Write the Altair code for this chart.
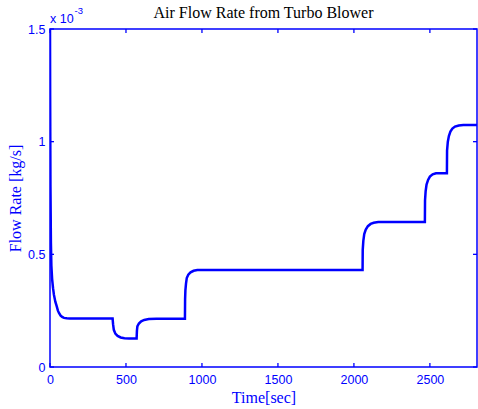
import altair as alt
import pandas as pd

# Time [s] and flow rate (in units of 1e-3 kg/s)
time_s = [0, 1, 3, 6, 9, 14, 20, 26, 35, 44, 52, 59, 70, 80, 92, 110, 130,
          412, 415, 420, 430, 445, 465, 490, 520, 570,
          572, 575, 585, 600, 620, 650, 700, 888,
          889, 891, 895, 900, 910, 925, 945, 970, 1000, 2057,
          2058, 2062, 2068, 2078, 2092, 2110, 2130, 2160, 2467,
          2468, 2472, 2478, 2488, 2500, 2518, 2540, 2612,
          2613, 2618, 2625, 2635, 2648, 2665, 2690, 2720, 2810]
flow_e3 = [1.5, 1.2, 0.8, 0.55, 0.45, 0.39, 0.35, 0.32, 0.29, 0.27, 0.25, 0.24, 0.228, 0.222, 0.218, 0.216, 0.215,
           0.215, 0.19, 0.165, 0.148, 0.138, 0.131, 0.128, 0.127, 0.127,
           0.16, 0.18, 0.193, 0.203, 0.209, 0.213, 0.214, 0.214,
           0.30, 0.34, 0.37, 0.395, 0.41, 0.42, 0.427, 0.43, 0.431, 0.431,
           0.52, 0.56, 0.59, 0.61, 0.625, 0.635, 0.64, 0.643, 0.643,
           0.74, 0.78, 0.81, 0.83, 0.845, 0.855, 0.86, 0.86,
           0.96, 1.0, 1.025, 1.045, 1.058, 1.067, 1.072, 1.074, 1.074]

x_ticks = [0, 500, 1000, 1500, 2000, 2500]
y_ticks = [0, 0.5, 1, 1.5]
x_domain = [0, 2810]
y_domain = [0, 1.5]

title_text = "Air Flow Rate from Turbo Blower"
x_title = "Time[sec]"
y_title = "Flow Rate [kg/s]"
exp_base = "x 10"
exp_power = "-3"

BLUE = "#0000FF"
SANS = "Liberation Sans"
SERIF = "Liberation Serif"
W, H = 427, 338
TICK = 4

df = pd.DataFrame({"t": time_s, "v": flow_e3})
xs = alt.Scale(domain=x_domain, nice=False, zero=False)
ys = alt.Scale(domain=y_domain, nice=False)

x_axis = alt.Axis(
    orient="bottom", values=x_ticks, tickSize=0, domain=False, grid=False,
    labelFlush=False, labelOverlap=False, labelFont=SANS, labelFontSize=12.5,
    labelColor=BLUE, labelPadding=6, labelExpr="'' + datum.value",
    title=x_title, titleFont=SERIF,
    titleFontSize=16, titleFontWeight="normal", titleColor=BLUE,
    titleBaseline="alphabetic", titleY=35)
y_axis = alt.Axis(
    orient="left", values=y_ticks, tickSize=0, domain=False, grid=False,
    labelFlush=False, labelOverlap=False, labelFont=SANS, labelFontSize=12.5,
    labelColor=BLUE, labelPadding=5, labelExpr="'' + datum.value",
    title=y_title, titleFont=SERIF, titleFontSize=16, titleFontWeight="normal",
    titleColor=BLUE, titleBaseline="alphabetic", titleX=-30, titleY=H / 2)

line = alt.Chart(df).mark_line(color=BLUE, strokeWidth=2.5, clip=True).encode(
    x=alt.X("t:Q", scale=xs, axis=x_axis),
    y=alt.Y("v:Q", scale=ys, axis=y_axis),
)

xt = alt.Chart(pd.DataFrame({"t": x_ticks}))
yt = alt.Chart(pd.DataFrame({"v": y_ticks}))
rule_style = dict(color=BLUE, strokeWidth=1.3)
tick_bottom = xt.mark_rule(**rule_style).encode(
    x=alt.X("t:Q", scale=xs, axis=x_axis), y=alt.value(H), y2=alt.value(H - TICK))
tick_top = xt.mark_rule(**rule_style).encode(
    x=alt.X("t:Q", scale=xs, axis=x_axis), y=alt.value(0), y2=alt.value(TICK))
tick_left = yt.mark_rule(**rule_style).encode(
    y=alt.Y("v:Q", scale=ys, axis=y_axis), x=alt.value(0), x2=alt.value(TICK))
tick_right = yt.mark_rule(**rule_style).encode(
    y=alt.Y("v:Q", scale=ys, axis=y_axis), x=alt.value(W), x2=alt.value(W - TICK))

one = alt.Chart(pd.DataFrame({"a": [0]}))
exp1 = one.mark_text(text=exp_base, align="left", baseline="alphabetic", dy=-6,
                     font=SANS, fontSize=12.5, color=BLUE).encode(
    x=alt.XDatum(x_domain[0]), y=alt.YDatum(y_domain[1]))
exp2 = one.mark_text(text=exp_power, align="left", baseline="alphabetic", dx=24.5,
                     dy=-15, font=SANS, fontSize=9.5, color=BLUE).encode(
    x=alt.XDatum(x_domain[0]), y=alt.YDatum(y_domain[1]))
title_mark = one.mark_text(text=title_text, align="center", baseline="alphabetic",
                           dy=-11, font=SERIF, fontSize=16, color="black").encode(
    x=alt.XDatum((x_domain[0] + x_domain[1]) / 2),
    y=alt.YDatum(y_domain[1]))

chart = alt.layer(
    line, tick_bottom, tick_top, tick_left, tick_right, exp1, exp2, title_mark
).properties(
    width=W, height=H,
    autosize=alt.AutoSizeParams(type="none"),
    padding={"left": 50, "top": 29, "right": 1, "bottom": 42},
    background="white",
).configure_view(stroke=BLUE, strokeWidth=1.5)

chart.save("out.html", embed_options={"renderer": "svg", "actions": False})
